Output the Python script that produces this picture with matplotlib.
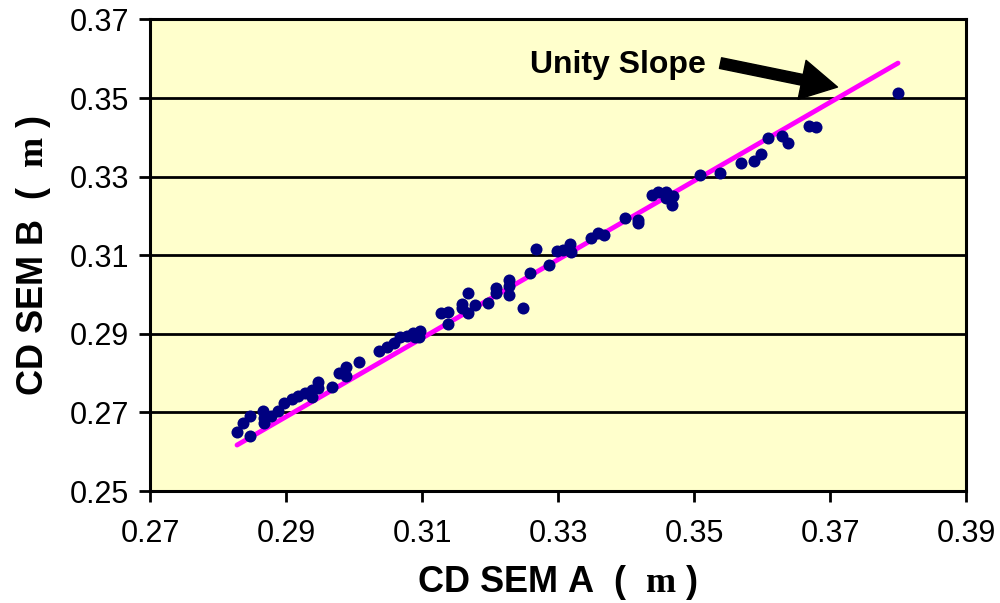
import matplotlib
matplotlib.use('Agg')
import matplotlib.pyplot as plt

plt.rcParams['font.family'] = ['Liberation Sans', 'DejaVu Sans']
plt.rcParams['mathtext.fontset'] = 'custom'
plt.rcParams['mathtext.bf'] = 'Liberation Serif:bold'

# CD measured on tool A vs tool B (um)
sem_a = [0.2828, 0.2837, 0.2847, 0.2847, 0.2866, 0.2868, 0.2868, 0.2878, 0.2888, 0.2897,
         0.2909, 0.2918, 0.2928, 0.2938, 0.2938, 0.2947, 0.2947, 0.2968, 0.2978, 0.2988,
         0.2988, 0.3007, 0.3037, 0.3048, 0.3059, 0.3068, 0.3078, 0.3087, 0.3090, 0.3097,
         0.3095, 0.3128, 0.3138, 0.3138, 0.3159, 0.3159, 0.3167, 0.3167, 0.3178, 0.3197,
         0.3209, 0.3209, 0.3228, 0.3228, 0.3228, 0.3248, 0.3259, 0.3267, 0.3287, 0.3298,
         0.3307, 0.3317, 0.3319, 0.3348, 0.3359, 0.3367, 0.3398, 0.3417, 0.3417, 0.3438,
         0.3447, 0.3459, 0.3459, 0.3469, 0.3467, 0.3509, 0.3538, 0.3569, 0.3588, 0.3598,
         0.3609, 0.3629, 0.3638, 0.3669, 0.3679, 0.3800]
sem_b = [0.2650, 0.2673, 0.2691, 0.2640, 0.2704, 0.2673, 0.2686, 0.2691, 0.2704, 0.2724,
         0.2734, 0.2742, 0.2749, 0.2757, 0.2739, 0.2777, 0.2762, 0.2765, 0.2800, 0.2816,
         0.2793, 0.2828, 0.2856, 0.2867, 0.2877, 0.2892, 0.2894, 0.2902, 0.2892, 0.2907,
         0.2892, 0.2953, 0.2956, 0.2925, 0.2976, 0.2966, 0.3004, 0.2953, 0.2973, 0.2978,
         0.3017, 0.3004, 0.3037, 0.3022, 0.2999, 0.2966, 0.3055, 0.3116, 0.3075, 0.3111,
         0.3113, 0.3129, 0.3108, 0.3144, 0.3157, 0.3152, 0.3195, 0.3190, 0.3182, 0.3253,
         0.3261, 0.3261, 0.3246, 0.3251, 0.3228, 0.3304, 0.3309, 0.3335, 0.3340, 0.3358,
         0.3398, 0.3404, 0.3386, 0.3429, 0.3426, 0.3513]

# unity slope reference line
unity_x = [0.2828, 0.3800]
unity_y = [0.2617, 0.3589]

x_ticks = [0.27, 0.29, 0.31, 0.33, 0.35, 0.37, 0.39]
y_ticks = [0.25, 0.27, 0.29, 0.31, 0.33, 0.35, 0.37]

fig = plt.figure(figsize=(10, 6.03), dpi=100)
ax = fig.add_axes([0.15, 0.1857, 0.816, 0.782])
ax.set_facecolor('#FFFFCC')

ax.plot(unity_x, unity_y, color='#FF00FF', lw=3.5, zorder=2, solid_capstyle='round')
ax.scatter(sem_a, sem_b, s=75, color='#000080', zorder=3, linewidths=0)

ax.set_xlim(0.27, 0.39)
ax.set_ylim(0.25, 0.37)
ax.set_xticks(x_ticks)
ax.set_yticks(y_ticks)
ax.set_xticklabels([f'{t:.2f}' for t in x_ticks])
ax.set_yticklabels([f'{t:.2f}' for t in y_ticks])
ax.tick_params(axis='both', labelsize=22, length=8, width=2, direction='out')
ax.tick_params(axis='x', pad=12)
ax.tick_params(axis='y', pad=7)
ax.grid(axis='y', color='black', lw=2, zorder=1)
ax.set_axisbelow(True)
for s in ax.spines.values():
    s.set_linewidth(2.2)

ax.set_xlabel(r'CD SEM A  (  $\mathbf{m}$ )', fontsize=26, fontweight='bold', labelpad=10)
ax.set_ylabel(r'CD SEM B  (  $\mathbf{m}$ )', fontsize=26, fontweight='bold', labelpad=12)

ax.text(0.3259, 0.3564, 'Unity Slope', fontsize=23, fontweight='bold', ha='left', va='baseline')
ax.annotate('', xy=(0.3711, 0.3528), xytext=(0.3539, 0.3589),
            arrowprops=dict(arrowstyle='simple,head_length=1.0,head_width=1.1,tail_width=0.3',
                            color='black', mutation_scale=26, shrinkA=0, shrinkB=0))

fig.savefig('out.png', dpi=100)
